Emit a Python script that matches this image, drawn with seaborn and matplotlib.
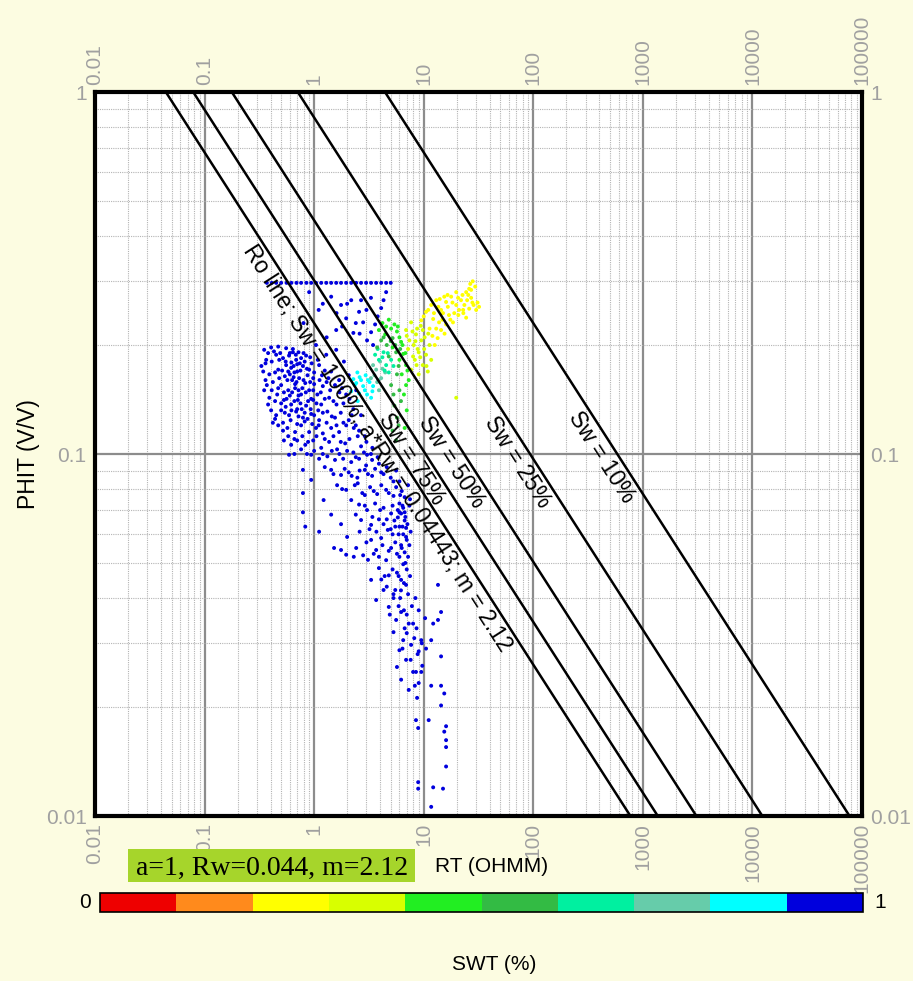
import numpy as np
import pandas as pd
import matplotlib
matplotlib.use("Agg")
import matplotlib.pyplot as plt
import seaborn as sns
from matplotlib.colors import ListedColormap, BoundaryNorm
from matplotlib.cm import ScalarMappable
from matplotlib.ticker import LogLocator, FixedLocator, NullFormatter
from matplotlib.patches import Rectangle
from matplotlib import transforms

plt.rcParams["font.family"] = ["Liberation Sans", "DejaVu Sans"]

# Archie / Pickett parameters
a_param = 1.0
rw = 0.0443
m_exp = 2.12
n_exp = 2.0
sw_lines = [1.0, 0.75, 0.50, 0.25, 0.10]
line_labels = ["Ro line; Sw = 100%; a*Rw = 0.04443; m = 2.12",
               "Sw = 75%", "Sw = 50%", "Sw = 25%", "Sw = 10%"]
label_phit = [0.109, 0.1017, 0.100, 0.100, 0.103]

x_ticks = [0.01, 0.1, 1, 10, 100, 1000, 10000, 100000]
x_ticklabels = ["0.01", "0.1", "1", "10", "100", "1000", "10000", "100000"]
y_ticks = [0.01, 0.1, 1]
y_ticklabels = ["0.01", "0.1", "1"]

# SWT colour classes (0..1 in steps of 0.1)
swt_bounds = [0, 0.1, 0.2, 0.3, 0.4, 0.5, 0.6, 0.7, 0.8, 0.9, 1.0]
swt_colors = ["#ee0000", "#ff8a1c", "#ffff00", "#d8ff00", "#22ee22",
              "#33bb44", "#00f0a0", "#66ccaa", "#00ffff", "#0000dd"]

# points: (RT, PHIT)
blue_pts = [
    # flat row at the porosity cap
    (0.37, 0.297), (0.41, 0.297), (0.45, 0.297), (0.50, 0.297), (0.56, 0.297), (0.62, 0.297),
    (0.69, 0.297), (0.76, 0.297), (0.85, 0.297), (0.94, 0.297), (1.04, 0.297), (1.16, 0.297),
    (1.29, 0.297), (1.43, 0.297), (1.59, 0.297), (1.76, 0.297), (1.96, 0.297), (2.18, 0.297),
    (2.42, 0.297), (2.68, 0.297), (2.98, 0.297), (3.31, 0.297), (3.68, 0.297), (4.09, 0.297),
    (4.54, 0.297), (5.0, 0.297),
    (4.54, 0.28), (4.3, 0.266), (4.09, 0.253), (3.8, 0.24), (3.6, 0.228), (3.31, 0.217),
    (3.04, 0.206), (2.68, 0.266), (2.57, 0.247), (2.8, 0.231), (1.43, 0.272), (1.76, 0.258),
    (2.18, 0.266), (1.1, 0.25), (1.96, 0.237), (1.59, 0.22), (2.28, 0.216), (3.45, 0.2),
    (0.9, 0.28), (1.2, 0.26), (1.6, 0.245), (2.0, 0.26), (2.4, 0.23), (3.0, 0.25),
    (3.3, 0.27), (0.8, 0.23), (1.3, 0.21), (2.6, 0.215), (1.8, 0.225),
    # upper cloud
    (0.35, 0.194), (0.365, 0.182), (0.343, 0.169), (0.37, 0.155), (0.39, 0.143), (0.405, 0.132),
    (0.42, 0.122), (0.405, 0.197), (0.47, 0.198), (0.555, 0.196), (0.64, 0.195), (0.72, 0.191),
    (0.845, 0.187), (0.45, 0.188), (0.52, 0.184), (0.59, 0.187), (0.685, 0.182), (0.76, 0.184),
    (0.555, 0.176), (0.617, 0.173), (0.47, 0.171), (0.70, 0.169), (0.79, 0.175), (0.90, 0.171),
    (0.54, 0.164), (0.63, 0.16), (0.73, 0.162), (0.83, 0.157), (0.98, 0.162), (0.50, 0.155),
    (0.58, 0.15), (0.67, 0.152), (0.76, 0.146), (0.90, 0.15), (1.07, 0.146), (1.2, 0.154),
    (0.46, 0.146), (0.53, 0.141), (0.617, 0.137), (0.71, 0.141), (0.845, 0.136), (0.98, 0.141),
    (1.16, 0.137), (1.37, 0.143), (0.50, 0.132), (0.59, 0.128), (0.685, 0.131), (0.79, 0.126),
    (0.94, 0.129), (1.11, 0.124), (1.32, 0.131), (1.55, 0.126), (0.47, 0.12), (0.57, 0.118),
    (0.67, 0.115), (0.76, 0.12), (0.90, 0.115), (1.04, 0.118), (1.2, 0.114), (1.43, 0.118),
    (1.69, 0.115), (1.96, 0.12), (0.64, 0.191), (0.74, 0.178), (0.58, 0.169), (0.87, 0.165),
    (0.67, 0.156), (0.78, 0.152), (1.0, 0.156), (0.60, 0.145), (0.94, 0.142), (0.70, 0.133),
    (1.04, 0.2), (1.29, 0.188), (1.59, 0.194), (1.87, 0.18), (1.11, 0.176), (1.43, 0.169),
    (1.69, 0.16), (2.07, 0.165), (2.42, 0.15), (1.96, 0.146), (1.6, 0.137), (2.28, 0.133),
    (2.68, 0.128), (2.07, 0.124), (2.57, 0.116),
    (0.38, 0.19), (0.43, 0.192), (0.49, 0.19), (0.60, 0.19), (0.68, 0.188), (0.80, 0.19),
    (0.92, 0.185), (0.36, 0.178), (0.41, 0.18), (0.48, 0.182), (0.55, 0.18), (0.62, 0.179),
    (0.70, 0.177), (0.82, 0.18), (0.95, 0.178), (1.08, 0.182), (0.39, 0.166), (0.44, 0.168),
    (0.51, 0.17), (0.60, 0.166), (0.66, 0.168), (0.75, 0.17), (0.86, 0.172), (1.0, 0.168),
    (1.25, 0.17), (0.36, 0.16), (0.42, 0.158), (0.48, 0.162), (0.57, 0.16), (0.65, 0.163),
    (0.69, 0.158), (0.80, 0.16), (0.92, 0.158), (1.12, 0.16), (1.3, 0.158), (0.41, 0.15),
    (0.47, 0.152), (0.53, 0.148), (0.63, 0.148), (0.72, 0.15), (0.84, 0.148), (0.98, 0.15),
    (1.15, 0.148), (1.4, 0.15), (1.7, 0.148), (0.44, 0.14), (0.50, 0.138), (0.56, 0.142),
    (0.66, 0.14), (0.75, 0.138), (0.88, 0.14), (1.05, 0.138), (1.25, 0.142), (1.5, 0.14),
    (1.85, 0.138), (0.45, 0.128), (0.54, 0.13), (0.62, 0.132), (0.72, 0.127), (0.82, 0.13),
    (1.0, 0.128), (1.2, 0.13), (1.45, 0.127), (1.75, 0.13), (2.2, 0.128), (0.52, 0.122),
    (0.61, 0.124), (0.70, 0.121), (0.82, 0.123), (0.96, 0.121), (1.1, 0.12), (1.3, 0.122),
    (1.6, 0.12), (1.85, 0.122), (2.4, 0.12),
    (0.33, 0.175), (0.35, 0.15), (0.38, 0.137), (0.44, 0.125), (0.52, 0.116), (0.55, 0.135),
    (0.65, 0.175), (0.72, 0.145), (0.77, 0.133), (0.87, 0.125), (0.93, 0.133), (1.09, 0.132),
    (1.18, 0.165), (1.35, 0.162), (1.55, 0.155), (1.8, 0.152), (2.1, 0.142), (2.3, 0.118),
    (2.9, 0.112), (3.4, 0.104),
    # band around PHIT 0.1
    (0.70, 0.109), (0.83, 0.106), (0.98, 0.109), (1.16, 0.104), (1.37, 0.108), (1.62, 0.103),
    (1.92, 0.107), (2.28, 0.101), (2.68, 0.105), (3.04, 0.0995), (0.94, 0.0995), (1.11, 0.097),
    (1.32, 0.0985), (1.55, 0.0963), (1.84, 0.097), (2.18, 0.095), (2.57, 0.097), (2.98, 0.093),
    (3.38, 0.0963), (0.76, 0.103), (0.617, 0.106), (0.53, 0.109), (0.59, 0.0995),
    (0.58, 0.112), (0.66, 0.11), (0.78, 0.112), (0.88, 0.108), (1.05, 0.112), (1.25, 0.11),
    (1.5, 0.112), (1.75, 0.108), (2.1, 0.11), (2.5, 0.112), (3.0, 0.108), (0.66, 0.10),
    (0.86, 0.10), (1.0, 0.102), (1.2, 0.10), (1.45, 0.102), (1.7, 0.10), (2.0, 0.102),
    (2.4, 0.098), (2.85, 0.101), (3.3, 0.10), (3.8, 0.098),
    # sloping band
    (1.43, 0.0904), (1.76, 0.0875), (2.07, 0.089), (2.48, 0.086), (2.9, 0.0904), (3.38, 0.087),
    (4.09, 0.089), (1.62, 0.082), (1.96, 0.0796), (2.35, 0.082), (2.75, 0.078), (3.24, 0.081),
    (3.76, 0.0775), (4.54, 0.0796), (5.3, 0.0766), (6.0, 0.073), (6.5, 0.071), (6.22, 0.0685),
    (6.7, 0.0655), (6.0, 0.063), (6.5, 0.06), (7.0, 0.0579), (2.18, 0.0746), (2.57, 0.0725),
    (3.04, 0.07), (3.6, 0.073), (4.3, 0.071), (5.04, 0.0685), (2.68, 0.0657), (3.31, 0.0637),
    (3.9, 0.066), (4.7, 0.0617), (5.4, 0.0655), (5.2, 0.06), (4.09, 0.0586), (3.31, 0.0579),
    (0.79, 0.0904), (0.79, 0.078), (0.79, 0.069), (0.83, 0.063), (1.11, 0.061), (0.94, 0.0848),
    (1.22, 0.0746), (1.43, 0.068), (1.76, 0.064),
    (1.25, 0.092), (1.5, 0.088), (1.9, 0.091), (2.2, 0.087), (2.6, 0.09), (3.1, 0.088),
    (3.6, 0.091), (4.3, 0.088), (5.0, 0.086), (5.6, 0.09), (1.8, 0.08), (2.5, 0.083),
    (2.9, 0.077), (3.5, 0.079), (4.1, 0.082), (4.8, 0.078), (5.6, 0.081), (6.3, 0.079),
    (7.2, 0.082), (2.4, 0.068), (2.9, 0.072), (3.4, 0.067), (4.0, 0.07), (4.6, 0.066),
    (5.2, 0.072), (5.8, 0.07), (6.8, 0.067), (7.4, 0.072), (5.0, 0.062), (4.3, 0.064),
    (5.9, 0.06), (7.1, 0.064), (3.7, 0.061),
    (3.9, 0.094), (4.6, 0.092), (5.3, 0.084), (6.0, 0.084), (6.7, 0.076), (7.5, 0.075),
    (6.0, 0.069), (6.9, 0.059), (7.4, 0.056), (7.6, 0.061), (5.5, 0.063), (6.4, 0.063),
    (2.0, 0.059), (2.6, 0.061), (3.2, 0.062), (2.3, 0.052), (3.1, 0.051), (3.9, 0.052),
    (6.1, 0.077), (6.4, 0.072), (6.7, 0.069), (5.8, 0.0668), (6.9, 0.0625), (6.22, 0.056),
    (6.7, 0.0535), (6.0, 0.052), (6.5, 0.0496), (5.7, 0.047), (6.22, 0.0449), (6.9, 0.0435),
    (5.5, 0.0421),
    (1.52, 0.055), (1.76, 0.0543), (1.96, 0.0527), (2.42, 0.055), (2.8, 0.0525), (3.68, 0.0543),
    (4.54, 0.0509), (5.04, 0.055), (3.9, 0.0484), (4.8, 0.0462), (3.31, 0.0449), (4.3, 0.0421),
    (5.3, 0.040), (3.68, 0.0395),
    (3.0, 0.057), (3.5, 0.053), (4.2, 0.056), (4.8, 0.054), (5.5, 0.057), (6.3, 0.055),
    (7.2, 0.052), (5.2, 0.048), (4.4, 0.046), (5.9, 0.046), (7.0, 0.048), (6.6, 0.044),
    (5.7, 0.053), (6.8, 0.050), (7.5, 0.046), (6.2, 0.042), (4.1, 0.045),
    # lower tail
    (4.6, 0.043), (5.3, 0.041), (6.1, 0.040), (7.2, 0.041), (7.8, 0.038), (4.9, 0.036),
    (6.6, 0.037), (8.4, 0.040), (9.0, 0.037), (7.0, 0.032), (8.2, 0.031), (6.4, 0.029),
    (7.6, 0.027), (8.8, 0.028), (9.7, 0.026), (6.7, 0.033), (5.9, 0.038), (7.0, 0.036),
    (8.0, 0.034), (8.6, 0.033), (9.6, 0.030), (10.5, 0.029),
    (4.8, 0.0378), (6.22, 0.0366), (5.6, 0.0348), (7.3, 0.034), (5.3, 0.0322), (6.5, 0.0306),
    (6.0, 0.0287), (7.67, 0.0297), (6.9, 0.027), (5.7, 0.0258), (8.0, 0.025), (6.22, 0.0238),
    (7.3, 0.0223), (8.7, 0.0212), (13.5, 0.0435), (14.4, 0.0366), (13.5, 0.0348), (12.2, 0.034),
    (11.7, 0.0306), (14.4, 0.0276), (9.0, 0.0285), (9.5, 0.0306), (10.3, 0.0352),
    (8.5, 0.025), (9.5, 0.025), (8.3, 0.0229), (9.0, 0.0233), (11.7, 0.0229), (14.4, 0.0229),
    (15.4, 0.0218), (14.4, 0.0202), (8.5, 0.0184), (11.1, 0.0184), (8.9, 0.0175), (16.0, 0.0177),
    (15.4, 0.0171), (16.0, 0.0162), (16.0, 0.0155), (16.0, 0.0137), (8.9, 0.0124), (8.9, 0.0119),
    (12.2, 0.012), (15.0, 0.0119), (11.7, 0.0106),
]
cyan_pts = [
    (2.28, 0.161), (2.48, 0.168), (2.68, 0.16), (2.95, 0.165), (2.42, 0.157), (2.8, 0.154),
    (3.2, 0.158), (2.57, 0.147), (3.04, 0.146), (3.45, 0.154), (2.18, 0.149), (3.31, 0.143),
    (2.35, 0.155), (2.6, 0.163), (2.9, 0.15), (3.1, 0.16), (3.4, 0.149), (2.5, 0.14),
]
mint_pts = [
    (3.68, 0.171), (4.09, 0.162), (3.45, 0.176), (3.9, 0.15), (4.45, 0.168), (3.76, 0.158),
    (3.55, 0.165), (4.2, 0.172), (3.85, 0.16), (4.0, 0.18), (3.3, 0.162),
]
aqua_pts = [
    (3.9, 0.182), (4.54, 0.176), (4.3, 0.191), (5.04, 0.182), (3.6, 0.188), (4.8, 0.168),
    (4.2, 0.185), (4.7, 0.19), (3.8, 0.195), (5.3, 0.175), (4.4, 0.17),
]
dkgreen_pts = [
    (4.09, 0.206), (4.6, 0.2), (5.2, 0.209), (3.76, 0.197), (5.6, 0.191), (5.04, 0.155),
    (5.7, 0.166), (5.3, 0.146), (6.0, 0.15), (5.4, 0.136), (5.7, 0.126), (5.2, 0.116),
    (5.6, 0.109), (4.8, 0.186), (4.3, 0.21), (5.0, 0.205), (5.5, 0.2), (6.1, 0.195),
    (5.9, 0.175), (6.2, 0.14), (5.9, 0.12),
]
green_pts = [
    (3.9, 0.22), (4.45, 0.214), (5.04, 0.222), (5.7, 0.218), (6.22, 0.204), (4.54, 0.225),
    (6.5, 0.189), (6.9, 0.176), (6.0, 0.182), (5.2, 0.197), (7.3, 0.16), (6.6, 0.146),
    (7.0, 0.132), (6.7, 0.118), (4.2, 0.23), (4.8, 0.235), (5.4, 0.228), (6.0, 0.21),
    (6.4, 0.2), (5.8, 0.225), (6.8, 0.19), (7.1, 0.17), (6.3, 0.166), (6.9, 0.155),
]
ygreen_pts = [
    (6.9, 0.22), (7.67, 0.231), (8.5, 0.214), (8.1, 0.2), (9.0, 0.191), (7.4, 0.206),
    (9.5, 0.206), (8.3, 0.182), (9.8, 0.176), (7.67, 0.171), (9.0, 0.166), (10.5, 0.188),
    (11.3, 0.2), (8.7, 0.222), (9.8, 0.22), (10.9, 0.169), (11.7, 0.182), (19.8, 0.143),
    (7.0, 0.212), (7.9, 0.218), (8.4, 0.205), (8.8, 0.195), (9.3, 0.185), (10.1, 0.195),
    (10.6, 0.175), (8.0, 0.186), (9.4, 0.226), (10.2, 0.21), (11.0, 0.215), (7.2, 0.195),
    (8.6, 0.176),
]
yellow_pts = [
    (9.5, 0.234), (10.5, 0.247), (11.7, 0.258), (13.0, 0.266), (14.4, 0.25), (16.0, 0.263),
    (17.8, 0.272), (19.8, 0.258), (21.9, 0.266), (24.4, 0.28), (27.1, 0.27), (26.0, 0.286),
    (28.5, 0.258), (30.1, 0.25), (22.9, 0.25), (17.0, 0.242), (13.8, 0.231), (12.2, 0.236),
    (11.3, 0.222), (14.4, 0.22), (18.5, 0.231), (20.7, 0.242), (16.0, 0.228), (13.4, 0.209),
    (24.4, 0.238), (27.1, 0.284), (29.5, 0.29), (24.9, 0.266), (19.8, 0.28), (15.4, 0.272),
    (12.6, 0.2), (10.0, 0.24), (11.0, 0.25), (12.4, 0.245), (13.6, 0.255), (15.0, 0.245),
    (16.6, 0.255), (18.3, 0.262), (20.6, 0.27), (22.6, 0.275), (23.5, 0.258), (25.5, 0.275),
    (27.8, 0.262), (26.6, 0.295), (28.0, 0.30), (31.0, 0.262), (32.0, 0.255), (21.0, 0.25),
    (17.5, 0.235), (14.8, 0.235), (13.0, 0.222), (15.5, 0.215), (12.0, 0.212), (19.0, 0.245),
    (23.0, 0.245), (16.5, 0.275), (14.0, 0.268), (26.0, 0.252),
]

groups = [(blue_pts, 0.95), (cyan_pts, 0.85), (mint_pts, 0.75), (aqua_pts, 0.65),
          (dkgreen_pts, 0.55), (green_pts, 0.45), (ygreen_pts, 0.35), (yellow_pts, 0.25)]
rows = []
for pts, swt in groups:
    for rt, phit in pts:
        rows.append({"RT": rt, "PHIT": phit, "SWT": swt})
df = pd.DataFrame(rows)

class_colors = {round(0.05 + 0.1 * i, 2): c for i, c in enumerate(swt_colors)}

W, H = 913, 981
fig = plt.figure(figsize=(W / 100, H / 100), dpi=100)
fig.patch.set_facecolor("#fcfce1")

ax = fig.add_axes([95 / W, 1 - 816 / H, (862 - 95) / W, (816 - 92) / H])
ax.set_facecolor("white")
ax.set_xscale("log")
ax.set_yscale("log")
ax.set_xlim(0.01, 100000)
ax.set_ylim(0.01, 1)

ax.xaxis.set_minor_locator(LogLocator(base=10, subs=np.arange(2, 10), numticks=100))
ax.yaxis.set_minor_locator(LogLocator(base=10, subs=np.arange(2, 10), numticks=100))
ax.xaxis.set_minor_formatter(NullFormatter())
ax.yaxis.set_minor_formatter(NullFormatter())
ax.xaxis.set_major_locator(FixedLocator(x_ticks))
ax.yaxis.set_major_locator(FixedLocator(y_ticks))
ax.set_xticklabels(x_ticklabels)
ax.set_yticklabels(y_ticklabels)
ax.grid(which="major", color="#8c8c8c", lw=1.6, zorder=0)
ax.grid(which="minor", color="#b4b4b4", lw=0.8, ls=(0, (1, 1)), zorder=0)
ax.set_axisbelow(True)

ax.tick_params(which="both", length=0, top=True, right=True,
               labeltop=True, labelright=True, labelcolor="#a0a0a0", labelsize=15)
ax.tick_params(axis="x", labelrotation=90, pad=5)
ax.tick_params(axis="y", pad=6)
for sp in ax.spines.values():
    sp.set_linewidth(3)
    sp.set_color("black")

sns.scatterplot(data=df, x="RT", y="PHIT", hue="SWT", palette=class_colors,
                s=8, linewidth=0, marker="o", legend=False, ax=ax, zorder=3)
ax.set_xlabel("")
ax.set_ylabel("")

phi_ends = np.array([1.0, 0.01])
p_a = ax.transData.transform((a_param * rw, 1.0))
p_b = ax.transData.transform((a_param * rw / 0.01 ** m_exp, 0.01))
ang = np.degrees(np.arctan2(p_b[1] - p_a[1], p_b[0] - p_a[0]))
nx, ny = np.sin(np.radians(ang)), -np.cos(np.radians(ang))

for sw, lab, ph in zip(sw_lines, line_labels, label_phit):
    rt_ends = a_param * rw / (phi_ends ** m_exp * sw ** n_exp)
    ax.plot(rt_ends, phi_ends, color="black", lw=1.8, zorder=4)
    rt_c = a_param * rw / (ph ** m_exp * sw ** n_exp)
    tr = transforms.offset_copy(ax.transData, fig=fig, x=2.5 * nx, y=2.5 * ny, units="points")
    ax.text(rt_c, ph, lab, rotation=ang, rotation_mode="anchor", ha="center", va="top",
            fontsize=16.5, color="black", transform=tr, zorder=5)

fig.text(28 / W, 1 - 454 / H, "PHIT (V/V)", rotation=90, ha="center", va="center",
         fontsize=16.5, color="black")
fig.text(492 / W, 1 - 867 / H, "RT (OHMM)", ha="center", va="center",
         fontsize=15, color="black")

# parameter box
fig.patches.append(Rectangle((128 / W, 1 - 882 / H), (415 - 128) / W, 33 / H,
                             transform=fig.transFigure, facecolor="#a6d52b",
                             edgecolor="none", zorder=1))
fig.text(272 / W, 1 - 868 / H, "a=1, Rw=0.044, m=2.12", ha="center", va="center",
         fontsize=20, family=["Liberation Serif", "DejaVu Serif"], color="black")

# SWT colour bar
cax = fig.add_axes([100 / W, 1 - 912 / H, (863 - 100) / W, 19 / H])
cmap = ListedColormap(swt_colors)
norm = BoundaryNorm(swt_bounds, cmap.N)
cb = fig.colorbar(ScalarMappable(norm=norm, cmap=cmap), cax=cax, orientation="horizontal")
cb.set_ticks([])
cb.minorticks_off()
cax.tick_params(which="both", length=0)
cb.outline.set_linewidth(1.2)
fig.text(85 / W, 1 - 902 / H, "0", ha="center", va="center", fontsize=15)
fig.text(880 / W, 1 - 902 / H, "1", ha="center", va="center", fontsize=15)
fig.text(494 / W, 1 - 965 / H, "SWT (%)", ha="center", va="center", fontsize=15)

fig.savefig("out.png", dpi=100, facecolor=fig.get_facecolor())
